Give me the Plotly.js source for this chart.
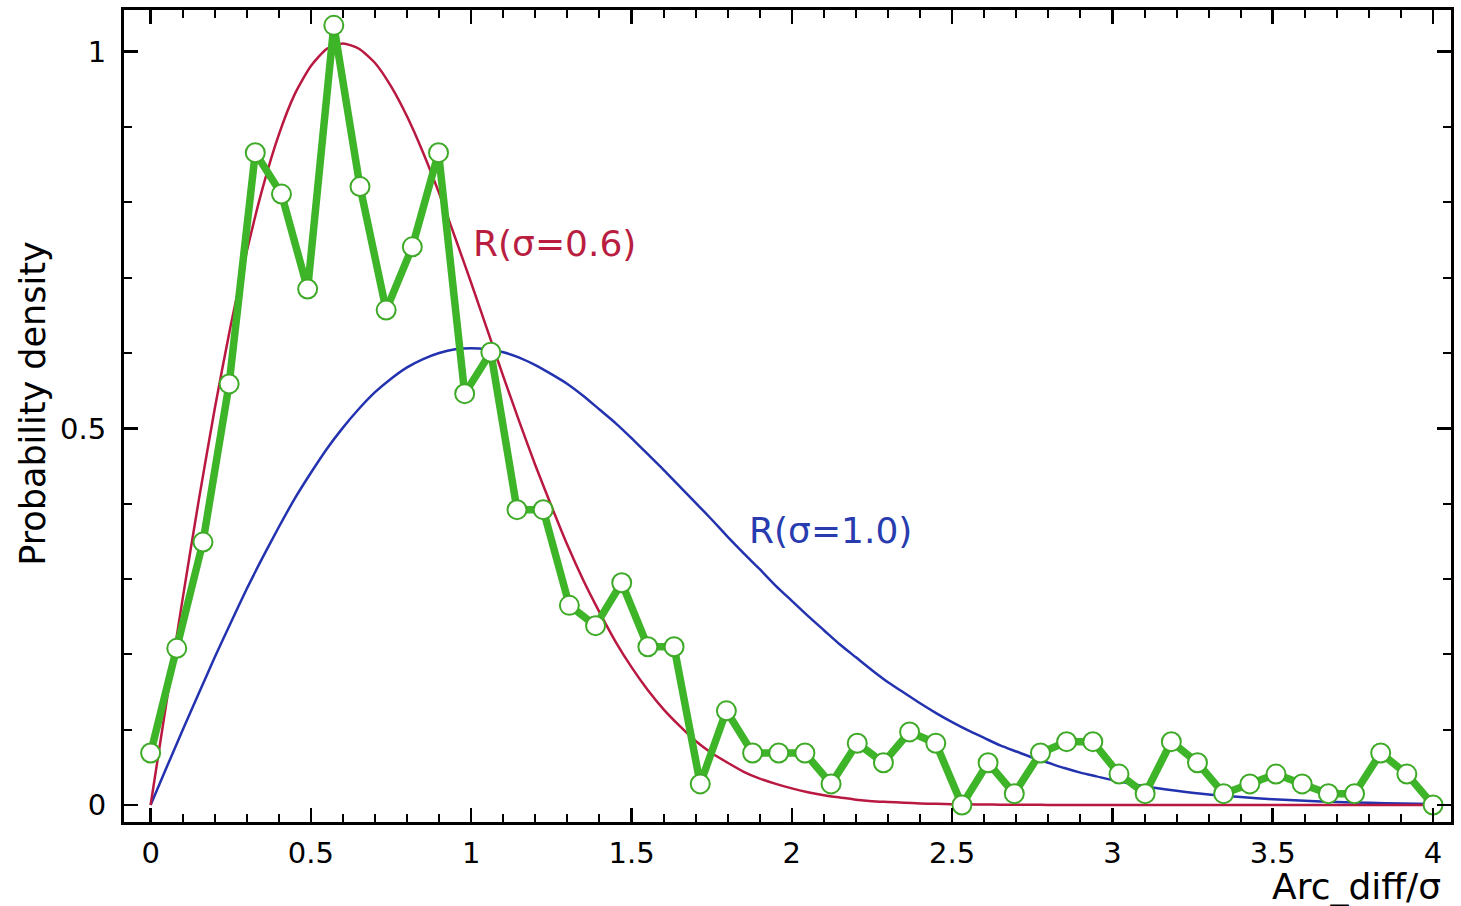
<!DOCTYPE html>
<html>
<head>
<meta charset="utf-8">
<script src="https://cdn.plot.ly/plotly-3.0.1.min.js"></script>
<style>html,body{margin:0;padding:0;background:#fff;}#chart{width:1461px;height:906px;}</style>
</head>
<body>
<div id="chart"></div>
<script>
// Observed data (green)
const obsX = [0, 0.0816, 0.1633, 0.2449, 0.3265, 0.4082, 0.4898, 0.5714, 0.6531, 0.7347,
  0.8163, 0.8980, 0.9796, 1.0612, 1.1429, 1.2245, 1.3061, 1.3878, 1.4694, 1.5510,
  1.6327, 1.7143, 1.7959, 1.8776, 1.9592, 2.0408, 2.1224, 2.2041, 2.2857, 2.3673,
  2.4490, 2.5306, 2.6122, 2.6939, 2.7755, 2.8571, 2.9388, 3.0204, 3.1020, 3.1837,
  3.2653, 3.3469, 3.4286, 3.5102, 3.5918, 3.6735, 3.7551, 3.8367, 3.9184, 4.0];
const obsY = [0.069, 0.208, 0.349, 0.559, 0.866, 0.811, 0.685, 1.035, 0.821, 0.657,
  0.741, 0.866, 0.546, 0.601, 0.392, 0.392, 0.265, 0.238, 0.295, 0.210,
  0.210, 0.028, 0.125, 0.069, 0.069, 0.069, 0.028, 0.082, 0.056, 0.097,
  0.082, 0.000, 0.056, 0.015, 0.069, 0.084, 0.084, 0.041, 0.015, 0.084,
  0.056, 0.015, 0.028, 0.041, 0.028, 0.015, 0.015, 0.069, 0.041, 0.000];

// Curves
const curveX = [0, 0.05, 0.1, 0.15, 0.2, 0.25, 0.3, 0.35, 0.4, 0.45, 0.5, 0.55, 0.6, 0.65, 0.7, 0.75,
  0.8, 0.85, 0.9, 0.95, 1.0, 1.05, 1.1, 1.15, 1.2, 1.25, 1.3, 1.35, 1.4, 1.45, 1.5,
  1.55, 1.6, 1.65, 1.7, 1.75, 1.8, 1.85, 1.9, 1.95, 2.0, 2.05, 2.1, 2.15, 2.2, 2.25,
  2.3, 2.35, 2.4, 2.45, 2.5, 2.55, 2.6, 2.65, 2.7, 2.75, 2.8, 2.85, 2.9, 2.95, 3.0,
  3.1, 3.2, 3.3, 3.4, 3.5, 3.6, 3.7, 3.8, 3.9, 4.0];
const red06 = [0, 0.138, 0.274, 0.404, 0.526, 0.637, 0.735, 0.820, 0.890, 0.944, 0.981, 1.004, 1.011, 1.004, 0.985, 0.954,
  0.914, 0.866, 0.812, 0.753, 0.693, 0.631, 0.569, 0.509, 0.451, 0.397, 0.345, 0.298, 0.256, 0.217, 0.183,
  0.153, 0.127, 0.105, 0.085, 0.069, 0.056, 0.044, 0.035, 0.028, 0.022, 0.017, 0.013, 0.010, 0.007, 0.005,
  0.004, 0.003, 0.002, 0.0015, 0.001, 0.0008, 0.0006, 0.0004, 0.0003, 0.0002, 0.0001, 0, 0, 0, 0,
  0, 0, 0, 0, 0, 0, 0, 0, 0, 0];
const blue10 = [0, 0.050, 0.0995, 0.148, 0.196, 0.242, 0.287, 0.329, 0.369, 0.407, 0.441, 0.473, 0.501, 0.526, 0.548, 0.566,
  0.581, 0.592, 0.600, 0.605, 0.6065, 0.605, 0.601, 0.594, 0.584, 0.572, 0.559, 0.543, 0.525, 0.507, 0.487,
  0.466, 0.445, 0.423, 0.401, 0.379, 0.356, 0.334, 0.313, 0.291, 0.271, 0.251, 0.232, 0.213, 0.196, 0.179,
  0.163, 0.149, 0.135, 0.122, 0.110, 0.099, 0.089, 0.079, 0.071, 0.063, 0.056, 0.049, 0.043, 0.038, 0.033,
  0.025, 0.019, 0.014, 0.0105, 0.0077, 0.0055, 0.0039, 0.0028, 0.0019, 0.0013];

const xTicks = [0, 0.5, 1, 1.5, 2, 2.5, 3, 3.5, 4];
const xTickText = ['0', '0.5', '1', '1.5', '2', '2.5', '3', '3.5', '4'];
const yTicks = [0, 0.5, 1];
const yTickText = ['0', '0.5', '1'];

const FONT = 'DejaVu Sans, sans-serif';

const traces = [
  {x: curveX, y: blue10, mode: 'lines', line: {color: 'rgb(35,50,175)', width: 2.5, shape: 'spline', smoothing: 0.6}, hoverinfo: 'skip'},
  {x: curveX, y: red06, mode: 'lines', line: {color: 'rgb(185,25,65)', width: 2.5, shape: 'spline', smoothing: 0.6}, hoverinfo: 'skip'},
  {x: obsX, y: obsY, mode: 'lines+markers',
   line: {color: 'rgb(62,180,40)', width: 7.5},
   marker: {size: 19, color: '#ffffff', line: {color: 'rgb(62,170,40)', width: 2}}}
];

const axisCommon = {
  showline: true, linecolor: '#000', linewidth: 3, mirror: 'allticks',
  ticks: 'inside', ticklen: 14, tickwidth: 2.5, tickcolor: '#000',
  showgrid: false, zeroline: false,
  tickfont: {family: FONT, size: 29, color: '#000'},
  minor: {dtick: 0.1, ticks: 'inside', ticklen: 8, tickwidth: 2, tickcolor: '#000', showgrid: false}
};

const layout = {
  width: 1461, height: 906,
  margin: {l: 124, r: 10, t: 10, b: 84},
  paper_bgcolor: '#fff', plot_bgcolor: '#fff',
  showlegend: false,
  xaxis: Object.assign({}, axisCommon, {
    range: [-0.083, 4.056], tickmode: 'array', tickvals: xTicks, ticktext: xTickText,
    ticklabelstandoff: 3
  }),
  yaxis: Object.assign({}, axisCommon, {
    range: [-0.0226, 1.0554], tickmode: 'array', tickvals: yTicks, ticktext: yTickText,
    ticklabelstandoff: 9
  }),
  annotations: [
    {x: 1.261, y: 0.745, xref: 'x', yref: 'y', text: 'R(σ=0.6)', showarrow: false,
     xanchor: 'center', yanchor: 'middle', font: {family: FONT, size: 36, color: 'rgb(185,30,65)'}},
    {x: 2.122, y: 0.365, xref: 'x', yref: 'y', text: 'R(σ=1.0)', showarrow: false,
     xanchor: 'center', yanchor: 'middle', font: {family: FONT, size: 36, color: 'rgb(40,60,175)'}},
    {x: 0.994, y: -0.079, xref: 'paper', yref: 'paper', text: 'Arc_diff/σ', showarrow: false,
     xanchor: 'right', yanchor: 'middle', font: {family: FONT, size: 36, color: '#000'}},
    {x: -0.0686, y: 0.515, xref: 'paper', yref: 'paper', text: 'Probability density', showarrow: false,
     textangle: -90, xanchor: 'center', yanchor: 'middle', font: {family: FONT, size: 35, color: '#000'}}
  ]
};

Plotly.newPlot('chart', traces, layout, {displayModeBar: false, staticPlot: true});
</script>
</body>
</html>
